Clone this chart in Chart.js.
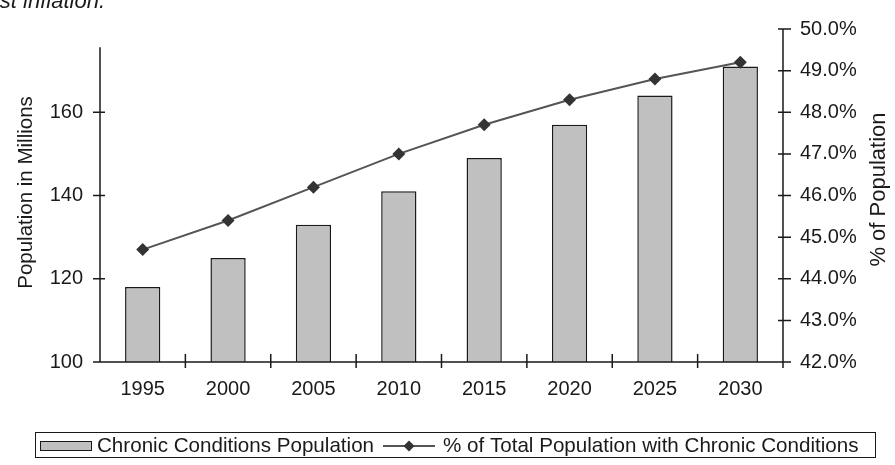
<!DOCTYPE html>
<html>
<head>
<meta charset="utf-8">
<script src="https://cdn.jsdelivr.net/npm/chart.js@4.4.1/dist/chart.umd.min.js"></script>
<style>
  html, body { margin: 0; padding: 0; background: #fff; }
  .canvas-container { position: relative; width: 895px; height: 465px; }
</style>
</head>
<body>
<div class="canvas-container">
  <canvas id="combo_chart" width="895" height="465"></canvas>
</div>
<script>
const years = ["1995", "2000", "2005", "2010", "2015", "2020", "2025", "2030"];
const chronicPopulation = [118, 125, 133, 141, 149, 157, 164, 171];
const percentWithChronic = [44.7, 45.4, 46.2, 47.0, 47.7, 48.3, 48.8, 49.2];
const leftTicks = [100, 120, 140, 160];
const rightTicks = [42, 43, 44, 45, 46, 47, 48, 49, 50];

const FONT = "'Liberation Sans', Arial, sans-serif";

// excel-ish axes: crossing tick marks, left axis stops short of the top
const excelAxes = {
  id: "excelAxes",
  afterDatasetsDraw(chart) {
    const { ctx, chartArea, scales } = chart;
    const y = scales.y, y1 = scales.y1;
    ctx.save();
    ctx.strokeStyle = "#1a1a1a";
    ctx.lineWidth = 1.5;
    ctx.beginPath();
    // left axis
    const lx = chartArea.left;
    ctx.moveTo(lx, y.getPixelForValue(175.6));
    ctx.lineTo(lx, chartArea.bottom);
    leftTicks.forEach((v) => {
      const py = y.getPixelForValue(v);
      ctx.moveTo(lx - 7, py);
      ctx.lineTo(lx + 5, py);
    });
    // right axis
    const rx = chartArea.right;
    ctx.moveTo(rx, chartArea.top);
    ctx.lineTo(rx, chartArea.bottom);
    rightTicks.forEach((v) => {
      const py = y1.getPixelForValue(v);
      ctx.moveTo(rx - 5, py);
      ctx.lineTo(rx + 8, py);
    });
    // category axis
    const by = chartArea.bottom;
    ctx.moveTo(lx - 7, by);
    ctx.lineTo(rx, by);
    const w = (chartArea.right - chartArea.left) / years.length;
    for (let i = 1; i <= years.length; i++) {
      const px = chartArea.left + i * w;
      ctx.moveTo(px, by - 8);
      ctx.lineTo(px, by + 6);
    }
    ctx.stroke();
    ctx.restore();
  },
  afterDraw(chart) {
    const { ctx, chartArea } = chart;
    const midY = (chartArea.top + chartArea.bottom) / 2 - 2;
    ctx.save();
    ctx.fillStyle = "#1a1a1a";
    ctx.textBaseline = "middle";
    ctx.textAlign = "center";

    // axis titles
    ctx.save();
    ctx.font = "20.5px " + FONT;
    ctx.translate(26, midY - 1);
    ctx.rotate(-Math.PI / 2);
    ctx.fillText("Population in Millions", 0, 0);
    ctx.restore();
    ctx.save();
    ctx.font = "22px " + FONT;
    ctx.translate(879, midY - 4);
    ctx.rotate(-Math.PI / 2);
    ctx.fillText("% of Population", 0, 0);
    ctx.restore();

    // clipped line of text above the chart
    ctx.font = "italic 22px " + FONT;
    ctx.textAlign = "right";
    ctx.textBaseline = "alphabetic";
    ctx.fillText("st inflation.", 105, 8);

    // legend
    const bars = chart.data.datasets[0];
    const line = chart.data.datasets[1];
    ctx.lineWidth = 1;
    ctx.strokeStyle = "#1a1a1a";
    ctx.strokeRect(35.5, 432.5, 840, 25);
    ctx.fillStyle = bars.backgroundColor;
    ctx.fillRect(40, 441, 51, 9);
    ctx.strokeRect(40.5, 441.5, 51, 9);

    ctx.strokeStyle = line.borderColor;
    ctx.lineWidth = 2;
    ctx.beginPath();
    ctx.moveTo(383, 446);
    ctx.lineTo(435, 446);
    ctx.stroke();
    ctx.fillStyle = line.pointBackgroundColor;
    ctx.beginPath();
    ctx.moveTo(409, 440.5);
    ctx.lineTo(414.5, 446);
    ctx.lineTo(409, 451.5);
    ctx.lineTo(403.5, 446);
    ctx.closePath();
    ctx.fill();

    ctx.fillStyle = "#1a1a1a";
    ctx.font = "20.6px " + FONT;
    ctx.textAlign = "left";
    ctx.textBaseline = "middle";
    ctx.fillText(bars.label, 97, 446);
    ctx.fillText(line.label, 443, 446);
    ctx.restore();
  },
};

const ctx = document.getElementById("combo_chart").getContext("2d");

let configuration = {
  type: "bar",
  data: {
    labels: years,
    datasets: [
      {
        type: "bar",
        label: "Chronic Conditions Population",
        data: chronicPopulation,
        yAxisID: "y",
        backgroundColor: "#c0c0c0",
        borderColor: "#1a1a1a",
        borderWidth: 1.5,
        borderSkipped: false,
        barPercentage: 0.413,
        categoryPercentage: 1,
        order: 1,
      },
      {
        type: "line",
        label: "% of Total Population with Chronic Conditions",
        data: percentWithChronic,
        yAxisID: "y1",
        borderColor: "#555555",
        borderWidth: 2,
        pointStyle: "rectRot",
        pointRadius: 6.5,
        pointBackgroundColor: "#333333",
        pointBorderColor: "#333333",
        pointBorderWidth: 0,
        tension: 0,
        order: 0,
      },
    ],
  },
  options: {
    responsive: false,
    animation: false,
    devicePixelRatio: 1,
    layout: { padding: { top: 18, left: 0, right: 0, bottom: 0 } },
    plugins: {
      legend: { display: false },
      tooltip: { enabled: false },
    },
    scales: {
      x: {
        grid: { display: false, drawTicks: false },
        border: { display: false },
        ticks: { color: "#1a1a1a", font: { family: FONT, size: 20 }, padding: 15, maxRotation: 0 },
        afterFit: (s) => { s.height = 103; },
      },
      y: {
        position: "left",
        min: 100,
        max: 180,
        grid: { display: false, drawTicks: false },
        border: { display: false },
        ticks: { color: "#1a1a1a", font: { family: FONT, size: 20 }, padding: 17 },
        afterBuildTicks: (s) => { s.ticks = leftTicks.map((v) => ({ value: v })); },
        afterFit: (s) => { s.width = 100; },
      },
      y1: {
        position: "right",
        min: 42,
        max: 50,
        grid: { display: false, drawTicks: false },
        border: { display: false },
        ticks: {
          color: "#1a1a1a",
          font: { family: FONT, size: 20 },
          padding: 17,
          callback: (v) => v.toFixed(1) + "%",
        },
        afterBuildTicks: (s) => { s.ticks = rightTicks.map((v) => ({ value: v })); },
        afterFit: (s) => { s.width = 112; },
      },
    },
  },
  plugins: [excelAxes],
};

const chart = new Chart(ctx, configuration);
</script>
</body>
</html>
